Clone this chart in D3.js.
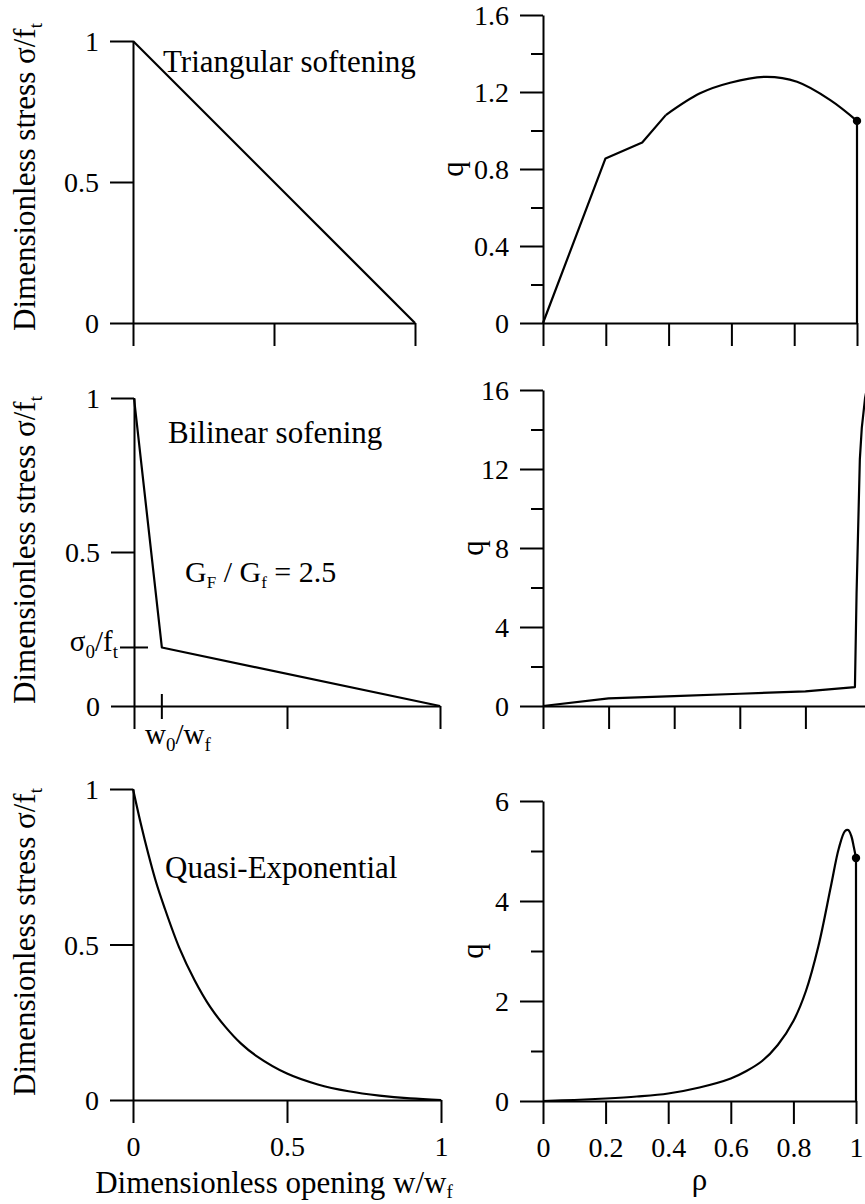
<!DOCTYPE html>
<html>
<head>
<meta charset="utf-8">
<script src="https://cdn.jsdelivr.net/npm/d3@7"></script>
<style>
  html, body { margin: 0; padding: 0; background: #fff; }
  svg { display: block; }
  text { font-family: "Liberation Serif", "Times New Roman", serif; fill: #000; }
</style>
</head>
<body>
<svg id="chart" width="865" height="1204"></svg>
<script>
// ---------------- data ----------------
// Left column: softening curves (dimensionless opening w/wf vs stress sigma/ft)
const triW = [0, 1];
const triS = [1, 0];

const biW = [0, 0.091, 1];
const biS = [1, 0.19, 0];
const biW0 = 0.091;      // w0/wf
const biS0 = 0.19;       // sigma0/ft

const qeW = [0, 0.025, 0.05, 0.075, 0.1, 0.15, 0.2, 0.25, 0.3, 0.35, 0.4, 0.5, 0.6, 0.7, 0.8, 0.9, 1.0];
const qeS = [1, 0.89, 0.79, 0.70, 0.625, 0.49, 0.385, 0.30, 0.235, 0.182, 0.142, 0.085, 0.05, 0.028, 0.014, 0.005, 0];

// Right column: q vs rho
// straight part (piecewise linear) then smooth part
const rhoTriLin = [0, 0.199, 0.316, 0.391];
const qTriLin   = [0, 0.855, 0.938, 1.08];
const rhoTriSm  = [0.391, 0.5, 0.596, 0.713, 0.809, 0.915, 1.0];
const qTriSm    = [1.08, 1.193, 1.248, 1.279, 1.253, 1.158, 1.05];
const qTriEnd = 1.05;

const rhoBi = [0, 0.2, 0.4, 0.6, 0.8, 0.951, 0.956, 0.966, 0.972, 0.982, 0.99];
const qBi   = [0, 0.39, 0.5, 0.62, 0.74, 0.96, 5.7, 12.5, 14.1, 15.6, 16.3];

const rhoQe = [0, 0.1, 0.2, 0.3, 0.4, 0.5, 0.6, 0.65, 0.7, 0.75, 0.8, 0.84, 0.88, 0.92, 0.945, 0.965, 0.975, 0.985, 0.993, 1.0];
const qQe   = [0, 0.02, 0.05, 0.09, 0.15, 0.27, 0.45, 0.6, 0.8, 1.12, 1.6, 2.2, 3.1, 4.3, 5.05, 5.4, 5.42, 5.3, 5.08, 4.86];
const qQeEnd = 4.86;

// tick values / labels
const leftYTicks = [0, 0.5, 1];
const leftXTicks = [0, 0.5, 1];
const rightXTicks = [0, 0.2, 0.4, 0.6, 0.8, 1];
const triQMajor = [0, 0.4, 0.8, 1.2, 1.6];
const triQMinor = [0.2, 0.6, 1.0, 1.4];
const biQMajor = [0, 4, 8, 12, 16];
const biQMinor = [2, 6, 10, 14];
const qeQMajor = [0, 2, 4, 6];
const qeQMinor = [1, 3, 5];

// ---------------- drawing ----------------
const svg = d3.select("#chart");
const FS_TICK = 28, FS_TITLE = 31, FS_NOTE = 31;
const TICK = 23, MINOR = 12;

function makeScales(px0, px1, py0, py1, xdom, ydom) {
  return {
    x: d3.scaleLinear().domain(xdom).range([px0, px1]),
    y: d3.scaleLinear().domain(ydom).range([py0, py1])
  };
}

function styleAxis(g) {
  g.attr("font-size", null).attr("font-family", null);
  g.selectAll("path.domain").attr("stroke", "#000").attr("stroke-width", 2);
  g.selectAll(".tick line").attr("stroke", "#000").attr("stroke-width", 2);
  g.selectAll(".tick text")
    .style("font-family", '"Liberation Serif", "Times New Roman", serif')
    .style("font-size", FS_TICK + "px").attr("fill", "#000");
}

function yAxis(s, major, minor, fmt) {
  const x0 = s.x.range()[0];
  const g = svg.append("g").attr("transform", `translate(${x0},0)`)
    .call(d3.axisLeft(s.y).tickValues(major).tickSize(TICK).tickSizeOuter(0).tickPadding(11)
      .tickFormat(fmt));
  styleAxis(g);
  g.selectAll(".tick text").attr("dy", "0.34em");
  if (minor) {
    const m = svg.append("g").attr("transform", `translate(${x0},0)`)
      .call(d3.axisLeft(s.y).tickValues(minor).tickSize(MINOR).tickSizeOuter(0).tickFormat(""));
    m.select("path.domain").remove();
    styleAxis(m);
  }
  return g;
}

function xAxis(s, ticks, showLabels, fmt) {
  const y0 = s.y.range()[0];
  const g = svg.append("g").attr("transform", `translate(0,${y0})`)
    .call(d3.axisBottom(s.x).tickValues(ticks).tickSize(TICK).tickSizeOuter(0).tickPadding(13)
      .tickFormat(showLabels ? fmt : ""));
  styleAxis(g);
  return g;
}

function drawLine(s, xs, ys, crv) {
  const pts = xs.map((v, i) => [v, ys[i]]);
  svg.append("path")
    .datum(pts)
    .attr("d", d3.line().x(d => s.x(d[0])).y(d => s.y(d[1])).curve(crv || d3.curveLinear))
    .attr("fill", "none").attr("stroke", "#000").attr("stroke-width", 2.2)
    .attr("stroke-linejoin", "round");
}

function endDrop(s, xv, yv) {
  svg.append("line")
    .attr("x1", s.x(xv)).attr("x2", s.x(xv))
    .attr("y1", s.y(yv)).attr("y2", s.y(0))
    .attr("stroke", "#000").attr("stroke-width", 2.2);
  svg.append("circle").attr("cx", s.x(xv)).attr("cy", s.y(yv)).attr("r", 4.2).attr("fill", "#000");
}

function stressLabel(bx, cy) {
  const t = svg.append("text")
    .attr("transform", `translate(${bx},${cy}) rotate(-90)`)
    .attr("text-anchor", "middle")
    .style("font-size", FS_TITLE + "px");
  t.append("tspan").text("Dimensionless stress σ/f");
  t.append("tspan").text("t").attr("dy", 7).style("font-size", "19px");
}

function qLabel(bx, cy) {
  svg.append("text")
    .attr("transform", `translate(${bx},${cy}) rotate(-90)`)
    .attr("text-anchor", "middle")
    .style("font-size", FS_TITLE + "px")
    .text("q");
}

const fmtNum = d => String(d);

// ---- Panel A: triangular ----
const sA = makeScales(133, 415, 323, 41, [0, 1], [0, 1]);
yAxis(sA, leftYTicks, null, fmtNum);
xAxis(sA, leftXTicks, false);
drawLine(sA, triW, triS);
svg.append("text").attr("x", 163).attr("y", 72).style("font-size", FS_NOTE + "px").text("Triangular softening");
stressLabel(35, 177);

// ---- Panel B: q for triangular ----
const sB = makeScales(543, 857, 323, 15, [0, 1], [0, 1.6]);
yAxis(sB, triQMajor, triQMinor, fmtNum);
xAxis(sB, rightXTicks, false);
drawLine(sB, rhoTriLin, qTriLin);
drawLine(sB, rhoTriSm, qTriSm, d3.curveCatmullRom.alpha(0.5));
endDrop(sB, 1, qTriEnd);
qLabel(463, 169);

// ---- Panel C: bilinear ----
const sC = makeScales(134, 440, 706, 398, [0, 1], [0, 1]);
yAxis(sC, leftYTicks, null, fmtNum);
xAxis(sC, leftXTicks, false);
svg.append("line").attr("x1", sC.x(0) - 14).attr("x2", sC.x(0) + 14)
  .attr("y1", sC.y(biS0)).attr("y2", sC.y(biS0)).attr("stroke", "#000").attr("stroke-width", 2);
svg.append("line").attr("x1", sC.x(biW0)).attr("x2", sC.x(biW0))
  .attr("y1", sC.y(0) - 12).attr("y2", sC.y(0) + 13).attr("stroke", "#000").attr("stroke-width", 2);
drawLine(sC, biW, biS);
svg.append("text").attr("x", 168).attr("y", 443).style("font-size", FS_NOTE + "px").text("Bilinear sofening");
{
  const t = svg.append("text").attr("x", 185).attr("y", 582).style("font-size", FS_NOTE - 1 + "px");
  t.append("tspan").text("G");
  t.append("tspan").text("F").attr("dy", 6).style("font-size", "17px");
  t.append("tspan").text(" / G").attr("dy", -6);
  t.append("tspan").text("f").attr("dy", 6).style("font-size", "17px");
  t.append("tspan").text(" = 2.5").attr("dy", -6);
}
{
  const t = svg.append("text").attr("x", 118).attr("y", sC.y(biS0) + 4).attr("text-anchor", "end").style("font-size", FS_TICK + 1 + "px");
  t.append("tspan").text("σ");
  t.append("tspan").text("0").attr("dy", 7).style("font-size", "19px");
  t.append("tspan").text("/f").attr("dy", -7);
  t.append("tspan").text("t").attr("dy", 7).style("font-size", "19px");
}
{
  const t = svg.append("text").attr("x", 145).attr("y", 744).style("font-size", FS_TICK + 1 + "px");
  t.append("tspan").text("w");
  t.append("tspan").text("0").attr("dy", 7).style("font-size", "19px");
  t.append("tspan").text("/w").attr("dy", -7);
  t.append("tspan").text("f").attr("dy", 7).style("font-size", "19px");
}
stressLabel(35, 550);

// ---- Panel D: q for bilinear ----
const sD = makeScales(543, 871, 706, 390, [0, 1], [0, 16]);
yAxis(sD, biQMajor, biQMinor, fmtNum);
xAxis(sD, rightXTicks, false);
drawLine(sD, rhoBi, qBi);
qLabel(483, 548);

// ---- Panel E: quasi-exponential ----
const sE = makeScales(133, 441, 1100, 789, [0, 1], [0, 1]);
yAxis(sE, leftYTicks, null, fmtNum);
xAxis(sE, leftXTicks, true, fmtNum);
drawLine(sE, qeW, qeS, d3.curveCatmullRom.alpha(0.5));
svg.append("text").attr("x", 165).attr("y", 878).style("font-size", FS_NOTE + "px").text("Quasi-Exponential");
stressLabel(35, 942);
{
  const t = svg.append("text").attr("x", 274).attr("y", 1193).attr("text-anchor", "middle").style("font-size", FS_TITLE + "px");
  t.append("tspan").text("Dimensionless opening w/w");
  t.append("tspan").text("f").attr("dy", 5).style("font-size", "19px");
}

// ---- Panel F: q for quasi-exponential ----
const sF = makeScales(543, 856, 1101, 801, [0, 1], [0, 6]);
yAxis(sF, qeQMajor, qeQMinor, fmtNum);
xAxis(sF, rightXTicks, true, fmtNum);
drawLine(sF, rhoQe, qQe, d3.curveCatmullRom.alpha(0.5));
endDrop(sF, 1, qQeEnd);
qLabel(483, 951);
svg.append("text").attr("x", (543 + 856) / 2).attr("y", 1190).attr("text-anchor", "middle").style("font-size", FS_TITLE + "px").text("ρ");
</script>
</body>
</html>
